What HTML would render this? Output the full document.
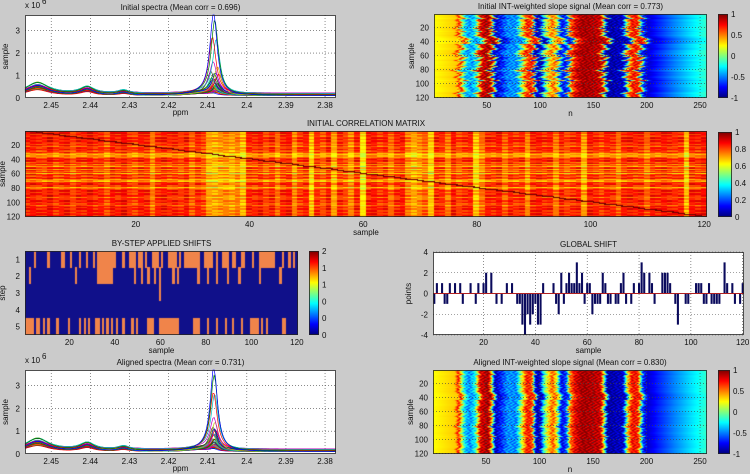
<!DOCTYPE html>
<html><head><meta charset="utf-8"><style>
body{margin:0;background:#cbcbcb;}
#fig{position:relative;width:750px;height:474px;background:#cbcbcb;overflow:hidden;font-family:"Liberation Sans",sans-serif;}
canvas{position:absolute;}
svg{position:absolute;left:0;top:0;}
text{font-family:"Liberation Sans",sans-serif;font-size:8px;fill:#111;}
</style></head><body>
<div id="fig">
<canvas id="cTR" width="273" height="84" style="left:434px;top:14px"></canvas>
<canvas id="cBR" width="274" height="84" style="left:433px;top:370px"></canvas>
<canvas id="cCM" width="682" height="86" style="left:25px;top:131px"></canvas>
<canvas id="cST" width="273" height="84" style="left:25px;top:251px"></canvas>
<canvas id="cb1" width="10" height="84" style="left:718px;top:14px"></canvas>
<canvas id="cb2" width="14" height="85" style="left:718px;top:132px"></canvas>
<canvas id="cb3" width="10" height="84" style="left:309px;top:251px"></canvas>
<canvas id="cb4" width="12" height="84" style="left:718px;top:370px"></canvas>
<svg id="ov" width="750" height="474"></svg>
</div>
<script>
// ---- data ----
const samples = Array.from({length:120},(_,i)=>i+1);
const globalShift = [-1,1,0,1,-1,-1,1,0,1,0,1,-1,0,0,1,0,-1,1,0,1,2,0,2,0,-1,0,-1,0,1,0,1,0,-1,-1,-3,-4,-2,-3,-2,-1,-3,-3,1,0,0,0,1,-1,-2,2,-1,1,2,1,1,3,1,2,-1,1,1,-2,-1,-1,-1,2,1,-1,-1,0,-1,-1,1,2,-1,0,-1,1,0,1,3,2,0,2,1,-1,0,0,2,2,2,1,0,-1,-3,0,0,-1,-1,0,0,1,1,1,-1,-1,1,-1,-1,-1,-1,0,3,1,0,1,-1,0,-1,1];
const step1 = [5,11,17,18,21,25,28,31,33,34,35,36,37,38,39,40,44,47,48,49,51,52,54,57,58,59,61,64,65,66,67,69,71,72,73,74,75,76,77,80,81,82,83,85,88,89,90,92,93,96,97,101,104,105,106,107,108,109,110,114,117,119];
const step2 = [3,23,33,34,35,36,37,38,39,49,52,55,58,60,66,68,77,81,85,90,95,104,113];
const step3 = [60];
const step4 = [];
const step5 = [1,2,3,4,6,7,9,11,15,20,25,27,29,32,33,35,37,39,41,44,48,50,55,56,57,60,61,62,63,64,65,66,67,68,75,76,77,81,85,89,92,96,100,101,102,103,105,107,114,115];
// slope profile: breakpoints n and value
const profN = [1,15,21,24,27,30,34,40,44,52,55,58,62,70,78,84,88,93,96,100,104,108,112,116,120,125,128,133,140,150,157,160,163,170,178,182,186,192,196,200,210,225,242,256];
const profV = [0.25,0.32,0.35,0.75,0.1,-0.3,-0.5,-0.2,0.8,0.95,0.3,-0.9,-0.75,-0.45,-0.5,0.3,0.75,0.6,-0.85,-0.9,-0.1,0.3,0.6,0.2,-0.8,-0.6,0.5,0.8,0.95,0.9,0.85,0.1,-0.95,-0.9,-0.85,0.3,0.75,0.7,-0.6,-0.85,-0.7,-0.5,-0.3,-0.15];
// column quality for correlation matrix (0..1)
const corrCol = [0.86,0.88,0.85,0.84,0.9,0.82,0.86,0.88,0.8,0.87,0.85,0.89,0.84,0.86,0.78,0.88,0.85,0.9,0.83,0.8,0.87,0.86,0.72,0.85,0.88,0.84,0.86,0.82,0.88,0.76,0.85,0.8,0.66,0.64,0.68,0.7,0.66,0.72,0.62,0.86,0.84,0.88,0.8,0.86,0.74,0.85,0.88,0.7,0.82,0.86,0.6,0.84,0.78,0.88,0.66,0.85,0.8,0.7,0.86,0.55,0.86,0.88,0.82,0.86,0.74,0.85,0.88,0.72,0.65,0.7,0.76,0.6,0.86,0.84,0.72,0.88,0.8,0.84,0.86,0.6,0.74,0.86,0.84,0.88,0.76,0.86,0.82,0.85,0.7,0.86,0.88,0.84,0.86,0.72,0.86,0.8,0.84,0.86,0.66,0.88,0.85,0.8,0.86,0.84,0.74,0.86,0.88,0.85,0.86,0.76,0.87,0.85,0.88,0.86,0.84,0.85,0.62,0.88,0.86,0.9];
// spectra peak heights (x1e6)
const peakH = [3.7,3.3,2.5,2.4,1.35,1.25,1.0,0.9,0.85,0.8,0.75,0.7,0.65,0.6,0.55,0.5,0.48,0.45,0.42,0.4,0.38,0.35,0.32,0.3,0.28,0.26,0.24,0.22,0.2,0.18,0.16,0.15,0.14,0.12,0.1,0.09,0.08,0.07,0.06,0.05];
const peakPosInit = [2.4085,2.4082,2.4088,2.4078,2.4086,2.4075,2.4092,2.408,2.4084,2.4072,2.409,2.4079,2.4095,2.4083,2.4087,2.4076,2.4081,2.4089,2.4074,2.4093,2.4082,2.4086,2.4078,2.409,2.4084,2.4073,2.4088,2.408,2.4091,2.4077,2.4085,2.4079,2.4087,2.4083,2.4081,2.4089,2.4076,2.4085,2.4082,2.4084];
const bumpH = [0.45,0.55,0.4,0.5,0.35,0.6,0.42,0.38,0.5,0.3,0.45,0.4,0.36,0.48,0.33,0.4,0.3,0.44,0.38,0.28,0.35,0.42,0.3,0.36,0.25,0.4,0.32,0.28,0.38,0.3,0.26,0.34,0.3,0.22,0.28,0.32,0.24,0.3,0.2,0.26];

// ---- helpers ----
function jet(t){t=Math.max(0,Math.min(1,t));const c=v=>Math.round(255*Math.max(0,Math.min(1,1.5-Math.abs(v))));return [c(4*t-3),c(4*t-2),c(4*t-1)];}
const SVGNS="http://www.w3.org/2000/svg";const ov=document.getElementById('ov');
function el(tag,attrs,parent){const e=document.createElementNS(SVGNS,tag);for(const k in attrs)e.setAttribute(k,attrs[k]);(parent||ov).appendChild(e);return e;}
function txt(x,y,s,anchor,name,extra){const t=el('text',Object.assign({x:x,y:y,'text-anchor':anchor||'middle'},extra||{}));t.textContent=s;


return t;}
function frame(x0,y0,x1,y1,name){const r=el('rect',{x:x0+0.5,y:y0+0.5,width:x1-x0-1,height:y1-y0-1,fill:'none',stroke:'#222','stroke-width':0.8});

}
function dotted(x1,y1,x2,y2){const l=el('line',{x1:x1,y1:y1,x2:x2,y2:y2,stroke:'#444','stroke-width':0.6,'stroke-dasharray':'1,2'});

}
function drawColorbar(id,vmin,vmax,ticks,labels,name){const c=document.getElementById(id),g=c.getContext('2d');for(let y=0;y<c.height;y++){const [r,gg,b]=jet(1-y/(c.height-1));g.fillStyle=`rgb(${r},${gg},${b})`;g.fillRect(0,y,c.width,1);}
const L=parseFloat(c.style.left),T=parseFloat(c.style.top);frame(L,T,L+c.width,T+c.height,name+'-frame');
ticks.forEach((v,i)=>{const y=T+(vmax-v)/(vmax-vmin)*c.height;txt(L+c.width+3,y+3,labels[i],'start',name+'-tick');});}
function profile(n){if(n<=profN[0])return profV[0];for(let i=1;i<profN.length;i++){if(n<=profN[i]){const f=(n-profN[i-1])/(profN[i]-profN[i-1]);return profV[i-1]+f*(profV[i]-profV[i-1]);}}return profV[profV.length-1];}

// ---- slope heatmaps ----
function slopeMap(id,scale){const c=document.getElementById(id),g=c.getContext('2d'),W=c.width,H=c.height;const img=g.createImageData(W,H);
for(let y=0;y<H;y++){const s=Math.floor(y/H*120);const sh=globalShift[s]*scale+(globalShift[(s*7)%120])*scale*0.4;
for(let x=0;x<W;x++){const n=0.5+x/W*256;const tex=(n>22&&n<200)?0.18*Math.sin(n*1.3+s*2.3)*Math.sin(n*0.21+s*0.7):0;const v=profile(n+sh)+tex;const [r,gg,b]=jet((v+1)/2);const k=(y*W+x)*4;img.data[k]=r;img.data[k+1]=gg;img.data[k+2]=b;img.data[k+3]=255;}}
g.putImageData(img,0,0);}
slopeMap('cTR',1.6);slopeMap('cBR',0.7);

// ---- correlation matrix ----
(function(){const c=document.getElementById('cCM'),g=c.getContext('2d'),W=c.width,H=c.height;
for(let i=0;i<120;i++)for(let j=0;j<120;j++){let v=Math.min(1,0.3+0.75*corrCol[i]*corrCol[j]+0.05*Math.sin(i*3.1+j*1.3));
if(i===j)v=1;const [r,gg,b]=jet(v);g.fillStyle=`rgb(${r},${gg},${b})`;
const x0=Math.floor(j/120*W),x1=Math.floor((j+1)/120*W),y0=Math.floor(i/120*H),y1=Math.floor((i+1)/120*H);g.fillRect(x0,y0,Math.max(1,x1-x0),Math.max(1,y1-y0));}
g.fillStyle='#700000';for(let i=0;i<120;i++){g.fillRect(Math.floor(i/120*W),Math.floor(i/120*H),Math.ceil(W/120)+1,1);}})();

// ---- step shifts ----
(function(){const c=document.getElementById('cST'),g=c.getContext('2d'),W=c.width,H=c.height;const rows=[step1,step2,step3,step4,step5];
g.fillStyle='#10108a';g.fillRect(0,0,W,H);
rows.forEach((row,ri)=>{row.forEach(s=>{g.fillStyle='#f0844a';const x0=Math.floor((s-1)/120*W),x1=Math.floor(s/120*W);g.fillRect(x0,Math.floor(ri/5*H),x1-x0,Math.ceil(H/5));});});})();

// ---- colorbars ----
drawColorbar('cb1',-1,1,[1,0.5,0,-0.5,-1],['1','0.5','0','-0.5','-1'],'colorbar-initial-slope');
drawColorbar('cb2',0,1,[1,0.8,0.6,0.4,0.2,0],['1','0.8','0.6','0.4','0.2','0'],'colorbar-correlation');
drawColorbar('cb3',0,2,[2,1.6,1.2,0.8,0.4,0],['2','1','1','0','0','0'],'colorbar-step-shifts');
drawColorbar('cb4',-1,1,[1,0.5,0,-0.5,-1],['1','0.5','0','-0.5','-1'],'colorbar-aligned-slope');

// ---- spectra ----
const lineColors=['#0000ff','#008000','#ff0000','#00bfbf','#bf00bf','#bfbf00','#404040'];
function spectra(x0,y0,x1,y1,aligned,title,prefix){
el('rect',{x:x0,y:y0,width:x1-x0,height:y1-y0,fill:'#fff'});
const pL=2.4567,pR=2.3772,yMax=3.69;const X=p=>x0+(pL-p)/(pL-pR)*(x1-x0);const Y=v=>y1-v/yMax*(y1-y0);
[2.45,2.44,2.43,2.42,2.41,2.4,2.39,2.38].forEach(p=>{dotted(X(p),y0,X(p),y1);txt(X(p),y1+10,String(p),'middle',prefix+'-x-tick');});
[1,2,3].forEach(v=>{dotted(x0,Y(v),x1,Y(v));txt(x0-5,Y(v)+3,String(v),'end',prefix+'-y-tick');});
txt(x0-5,y1+3,'0','end',prefix+'-y-tick');
const g=el('g',{});
const f=(x,x0p,w)=>w*w/((x-x0p)*(x-x0p)+w*w);
for(let k=peakH.length-1;k>=0;k--){const pos=aligned?2.4084+(peakPosInit[k]-2.4084)*0.3:peakPosInit[k];let pts=[];
for(let i=0;i<=240;i++){const p=pL-(pL-pR)*i/240;let v=0.1+0.12*(k%5)/4+peakH[k]*f(p,pos,0.0011)+bumpH[k]*f(p,2.4535,0.0035)+bumpH[k]*0.6*f(p,2.4408,0.0022)+bumpH[k]*0.3*f(p,2.4315,0.0018)+0.08*f(p,2.412,0.004);
pts.push(X(p).toFixed(1)+','+Math.max(y0,Y(v)).toFixed(1));}
const pl=el('polyline',{points:pts.join(' '),fill:'none',stroke:lineColors[k%7],'stroke-width':0.7},g);
}
frame(x0,y0,x1,y1,prefix+'-axes');
txt((x0+x1)/2,y0-5,title,'middle',prefix+'-title');
txt((x0+x1)/2,y1+17,'ppm','middle',prefix+'-x-label');
txt(x0,y0-7,'x 10','start',prefix+'-exponent');txt(x0+17,y0-11,'6','start',prefix+'-exponent-power',{'font-size':'5px'});
txt(8,(y0+y1)/2,'sample','middle',prefix+'-y-label',{transform:`rotate(-90 8 ${(y0+y1)/2})`});}
spectra(25,15,336,98,false,'Initial spectra (Mean corr = 0.696)','initial-spectra');
spectra(25,370,336,454,true,'Aligned spectra (Mean corr = 0.731)','aligned-spectra');

// ---- heatmap axes ----
function heatAxes(x0,y0,x1,y1,xmin,xmax,xt,yt,yl,ymin,ymax,title,xlabel,ylabel,prefix,grid){
const X=v=>x0+(v-xmin)/(xmax-xmin)*(x1-x0),Y=v=>y0+(v-ymin)/(ymax-ymin)*(y1-y0);
if(grid){xt.forEach(v=>dotted(X(v),y0,X(v),y1));yt.forEach(v=>dotted(x0,Y(v),x1,Y(v)));}
xt.forEach(v=>txt(X(v),y1+10,String(v),'middle',prefix+'-x-tick'));
yt.forEach((v,i)=>txt(x0-5,Y(v)+3,yl[i],'end',prefix+'-y-tick'));
frame(x0,y0,x1,y1,prefix+'-axes');
txt((x0+x1)/2,y0-5,title,'middle',prefix+'-title');
txt((x0+x1)/2,y1+18,xlabel,'middle',prefix+'-x-label');
const lx=x0-20;txt(lx,(y0+y1)/2,ylabel,'middle',prefix+'-y-label',{transform:`rotate(-90 ${lx} ${(y0+y1)/2})`});}
const yt6=[20,40,60,80,100,120],yl6=['20','40','60','80','100','120'];
heatAxes(434,14,707,98,0.5,256.5,[50,100,150,200,250],yt6,yl6,0.5,120.5,'Initial INT-weighted slope signal (Mean corr = 0.773)','n','sample','initial-slope',true);
heatAxes(433,370,707,454,0.5,256.5,[50,100,150,200,250],yt6,yl6,0.5,120.5,'Aligned INT-weighted slope signal (Mean corr = 0.830)','n','sample','aligned-slope',true);
heatAxes(25,131,707,217,0.5,120.5,[20,40,60,80,100,120],yt6,yl6,0.5,120.5,'INITIAL CORRELATION MATRIX','sample','sample','correlation',false);
heatAxes(25,251,298,335,0.5,120.5,[20,40,60,80,100,120],[1,2,3,4,5],['1','2','3','4','5'],0.5,5.5,'BY-STEP APPLIED SHIFTS','sample','step','step-shifts',false);

// ---- global shift bars ----
(function(){const x0=433,y0=252,x1=744,y1=335,prefix='global-shift';
el('rect',{x:x0,y:y0,width:x1-x0,height:y1-y0,fill:'#fff'});
const X=v=>x0+(v-0.5)/120*(x1-x0),Y=v=>y0+(4-v)/8*(y1-y0);
[20,40,60,80,100,120].forEach(v=>dotted(X(v),y0,X(v),y1));[4,2,0,-2,-4].forEach(v=>dotted(x0,Y(v),x1,Y(v)));
samples.forEach((s,i)=>{const v=globalShift[i];if(v===0)return;const b=el('rect',{x:X(s-0.4),y:Math.min(Y(0),Y(v)),width:X(s+0.4)-X(s-0.4),height:Math.abs(Y(v)-Y(0)),fill:'#0a0a5c'});
});
const z=el('line',{x1:x0,y1:Y(0),x2:x1,y2:Y(0),stroke:'#b02020','stroke-width':1});
[20,40,60,80,100,120].forEach(v=>txt(X(v),y1+10,String(v),'middle',prefix+'-x-tick'));
[4,2,0,-2,-4].forEach(v=>txt(x0-5,Y(v)+3,String(v),'end',prefix+'-y-tick'));
frame(x0,y0,x1,y1,prefix+'-axes');
txt((x0+x1)/2,y0-5,'GLOBAL SHIFT','middle',prefix+'-title');
txt((x0+x1)/2,y1+18,'sample','middle',prefix+'-x-label');
txt(411,(y0+y1)/2,'points','middle',prefix+'-y-label',{transform:`rotate(-90 411 ${(y0+y1)/2})`});})();
</script>
</body></html>
